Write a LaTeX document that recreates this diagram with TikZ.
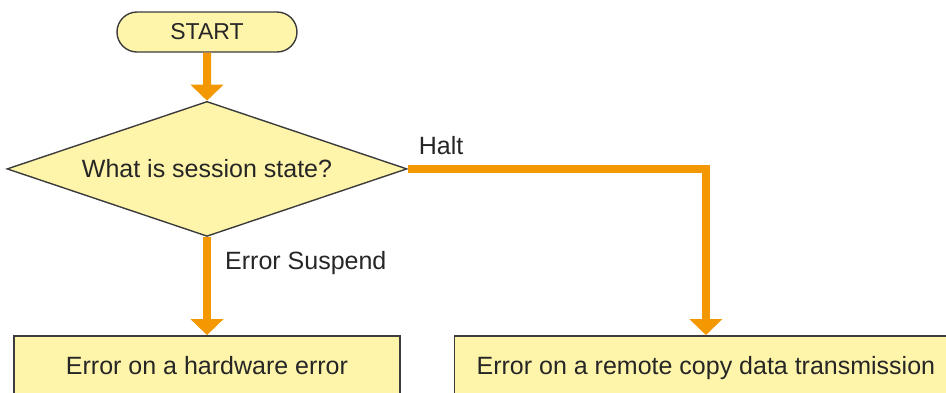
\documentclass[tikz,border=0pt]{standalone}
\usepackage{fontspec}
\setmainfont{Liberation Sans}
\usetikzlibrary{positioning,arrows.meta,shapes.geometric,shapes.misc}
\definecolor{boxfill}{HTML}{FFF5AA}
\definecolor{boxline}{HTML}{3C3C3C}
\definecolor{flowline}{HTML}{F39800}
\tikzset{
  terminal/.style  = {draw=boxline, fill=boxfill, rounded rectangle, line width=1.4pt,
                      minimum width=180pt, minimum height=40pt, inner sep=0pt,
                      text=black!85, font=\fontsize{23}{27}\selectfont},
  decision/.style  = {draw=boxline, fill=boxfill, diamond, line width=1.4pt,
                      aspect=2.96, minimum width=400pt, minimum height=135pt, inner sep=0pt,
                      text=black!85, font=\fontsize{25}{30}\selectfont},
  proc/.style      = {draw=boxline, fill=boxfill, rectangle, line width=1.4pt,
                      minimum width=386pt, minimum height=64pt, inner sep=0pt,
                      text height=18pt, text depth=5pt,
                      text=black!85, font=\fontsize{25}{30}\selectfont},
  flow/.style      = {-{Triangle[length=16pt,width=32pt]}, draw=flowline,
                      line width=8pt, line join=miter},
  branch/.style    = {font=\fontsize{25}{30}\selectfont, inner sep=0pt, text=black!85}
}
\begin{document}
\begin{tikzpicture}
  \useasboundingbox (0,0) rectangle (946pt,-392pt);
  \clip (0,0) rectangle (946pt,-392pt);

  % Start and decision
  \node[terminal] (start) at (207pt,-32pt) {START};
  \node[decision, below=48pt of start] (state) {What is session state?};

  % Outcomes
  \node[proc, below=98pt of state] (hwerr) {Error on a hardware error};
  \node[proc, right=53pt of hwerr, minimum width=503pt] (rcerr) {Error on a remote copy data transmission};

  % Edges
  \draw[flow] (start) -- (state);
  \draw[flow] (state.south) -- (hwerr.north);
  \draw[flow] (state.east) -| (rcerr.north);

  % Branch labels
  \node[branch, anchor=base west] (halt) at ([shift={(11pt,14pt)}]state.east) {Halt};
  \node[branch, anchor=base west] (susp) at ([shift={(18pt,-32pt)}]state.south) {Error Suspend};
\end{tikzpicture}
\end{document}
